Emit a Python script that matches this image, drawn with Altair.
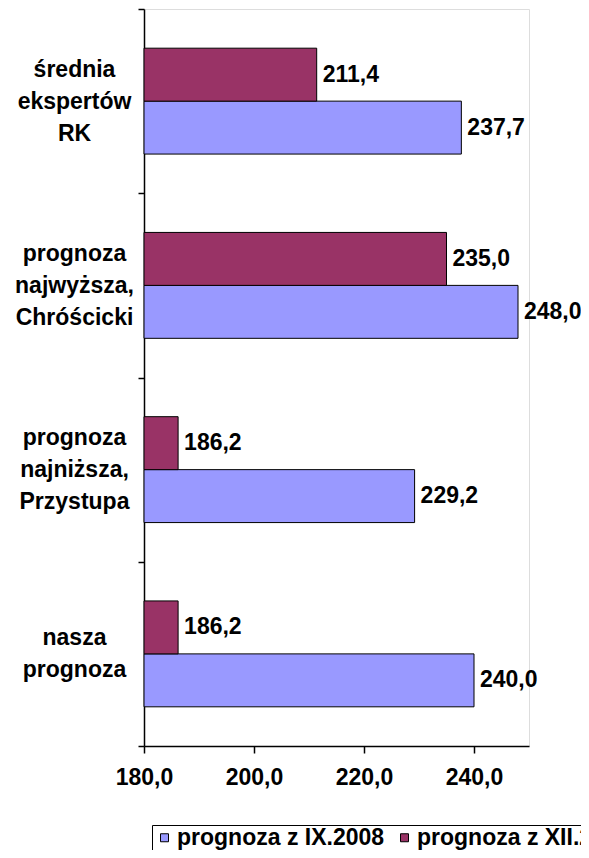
import altair as alt
import pandas as pd

categories = [
    "średnia|ekspertów|RK",
    "prognoza|najwyższa,|Chróścicki",
    "prognoza|najniższa,|Przystupa",
    "nasza|prognoza",
]
series = ["prognoza z IX.2008", "prognoza z XII.2008"]
values_ix = [237.7, 248.0, 229.2, 240.0]
values_xii = [211.4, 235.0, 186.2, 186.2]
x_ticks = [180, 200, 220, 240]
colors = ["#9999FF", "#993366"]

rows = []
for c, a, b in zip(categories, values_ix, values_xii):
    rows.append({"kategoria": c, "seria": series[0], "wartosc": a})
    rows.append({"kategoria": c, "seria": series[1], "wartosc": b})
df = pd.DataFrame(rows)

FONT = "Liberation Sans"
FS = 23
LH = 32
LEFT = 136  # plot starts at page x = 8 + LEFT

y_enc = alt.Y(
    "kategoria:N",
    sort=categories,
    title=None,
    scale=alt.Scale(paddingInner=0, paddingOuter=0),
    axis=alt.Axis(
        labelExpr="split(datum.label, '|')",
        labelAlign="center",
        labelBaseline="middle",
        labelPadding=64,
        labelOffset={
            "condition": {"test": "length(split(datum.value, '|')) == 2", "value": -LH / 2},
            "value": -LH,
        },
        tickSize=6,
        tickBand="extent",
        labelLineHeight=LH,
        labelFont=FONT,
        labelFontSize=FS,
        labelFontWeight="bold",
        labelColor="black",
        domainColor="black",
        domainWidth=1.5,
        tickColor="black",
        tickWidth=1.5,
        labelLimit=0,
    ),
)
off_scale = alt.Scale(paddingInner=0, paddingOuter=0.74)
yoff = alt.YOffset("seria:N", sort=[series[1], series[0]], scale=off_scale)
x_enc = alt.X(
    "wartosc:Q",
    title=None,
    scale=alt.Scale(domain=[180, 250], nice=False, zero=False),
    axis=alt.Axis(
        values=x_ticks,
        labelExpr="replace(format(datum.value, '.1f'), '.', ',')",
        grid=False,
        tickSize=7,
        labelPadding=13,
        labelFlush=False,
        labelFont=FONT,
        labelFontSize=FS,
        labelFontWeight="bold",
        labelColor="black",
        domainColor="black",
        domainWidth=1.5,
        tickColor="black",
        tickWidth=1.5,
    ),
)

base = alt.Chart(df)

bars = base.mark_bar(stroke="black", strokeWidth=1, opacity=1).encode(
    y=y_enc,
    yOffset=yoff,
    x=x_enc,
    x2=alt.datum(180),
    color=alt.Color(
        "seria:N",
        scale=alt.Scale(domain=series, range=colors),
        legend=alt.Legend(
            title=None,
            orient="none",
            legendX=8,
            legendY=816,
            direction="horizontal",
            symbolType="square",
            symbolSize=64,
            symbolStrokeColor="black",
            symbolStrokeWidth=1,
            symbolOpacity=1,
            symbolOffset=0,
            labelFont=FONT,
            labelFontSize=FS,
            labelFontWeight="bold",
            labelColor="black",
            labelLimit=0,
            labelOffset=1,
            columnPadding=8,
            strokeColor="black",
            padding=1,
        ),
    ),
)

labels = base.transform_calculate(
    etykieta="replace(format(datum.wartosc, '.1f'), '.', ',')"
).mark_text(
    align="left", baseline="middle", dx=6, font=FONT, fontSize=FS, fontWeight="bold", color="black"
).encode(
    y=alt.Y("kategoria:N", sort=categories),
    yOffset=alt.YOffset("seria:N", sort=[series[1], series[0]], scale=off_scale),
    x=alt.X("wartosc:Q"),
    text="etykieta:N",
)

chart = (
    alt.layer(bars, labels)
    .properties(
        width=385,
        height=737,
        autosize="none",
        padding={"left": LEFT, "top": 1, "right": 573 - LEFT - 385, "bottom": 104},
    )
    .configure_view(stroke="#a0a0a0", strokeWidth=2)
    .configure(background="white")
)

chart.save("out.html", embed_options={"renderer": "svg", "actions": False})
